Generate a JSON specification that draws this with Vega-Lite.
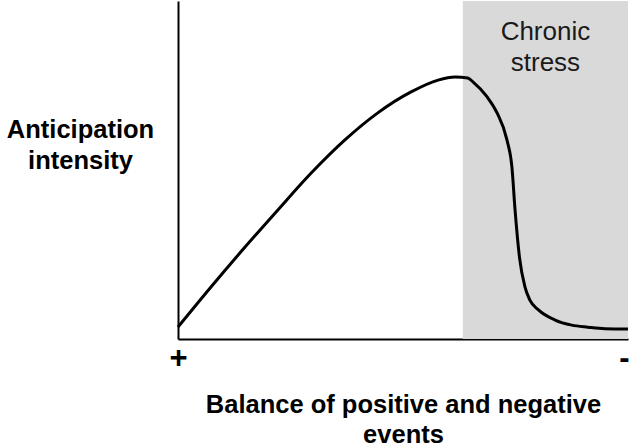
{
  "$schema": "https://vega.github.io/schema/vega-lite/v6.json",
  "width": 450,
  "height": 338,
  "autosize": "none",
  "padding": {"left": 178, "top": 1, "right": 4, "bottom": 109},
  "background": "white",
  "config": {"view": {"stroke": null}, "font": "Liberation Sans"},
  "layer": [
    {
      "data": {"values": [{"start": 63.3, "end": 100, "low": 0, "high": 100}]},
      "mark": {"type": "rect", "color": "#d9d9d9"},
      "encoding": {
        "x": {
          "field": "start", "type": "quantitative",
          "scale": {"domain": [0, 100], "nice": false, "zero": false},
          "axis": {
            "title": ["Balance of positive and negative", "events"],
            "titleFontSize": 25.5, "titleFontWeight": "bold", "titleColor": "black",
            "titleLineHeight": 30, "titleBaseline": "alphabetic", "titleY": 73, "titleX": 225,
            "values": [0, 100],
            "labelExpr": "datum.value == 0 ? '+' : '-'",
            "labelFontSize": 31, "labelFontWeight": "bold", "labelColor": "black",
            "labelOffset": {"condition": {"test": "datum.value == 100", "value": -4}, "value": 0},
            "labelPadding": 4, "labelFlush": false, "labelOverlap": false,
            "ticks": false, "grid": false, "domainColor": "black", "domainWidth": 2
          }
        },
        "x2": {"field": "end"},
        "y": {
          "field": "low", "type": "quantitative",
          "scale": {"domain": [0, 100], "nice": false, "zero": false},
          "axis": {
            "title": ["Anticipation", "intensity"],
            "titleAngle": 0, "titleAlign": "center", "titleBaseline": "alphabetic",
            "titleX": -98, "titleY": 136,
            "titleFontSize": 25.5, "titleFontWeight": "bold", "titleColor": "black", "titleLineHeight": 31,
            "labels": false, "ticks": false, "grid": false,
            "domainColor": "black", "domainWidth": 2
          }
        },
        "y2": {"field": "high"}
      }
    },
    {
      "data": {"values": [
        {"x": 0, "y": 3.55},
        {"x": 7.33, "y": 15.4},
        {"x": 14.9, "y": 27.2},
        {"x": 22.2, "y": 38.2},
        {"x": 29.6, "y": 49.1},
        {"x": 37.1, "y": 58.9},
        {"x": 44.4, "y": 66.9},
        {"x": 51.8, "y": 73.1},
        {"x": 57.8, "y": 76.6},
        {"x": 61.6, "y": 77.5},
        {"x": 64.4, "y": 77.2},
        {"x": 65.6, "y": 76.0},
        {"x": 68.7, "y": 71.6},
        {"x": 70.9, "y": 66.9},
        {"x": 73.1, "y": 58.9},
        {"x": 74.2, "y": 50.9},
        {"x": 74.9, "y": 38.2},
        {"x": 75.9, "y": 24.0},
        {"x": 77.1, "y": 15.4},
        {"x": 78.2, "y": 11.5},
        {"x": 80.1, "y": 8.6},
        {"x": 83.8, "y": 5.6},
        {"x": 87.5, "y": 4.1},
        {"x": 91.1, "y": 3.5},
        {"x": 94.9, "y": 3.05},
        {"x": 100, "y": 2.96}
      ]},
      "mark": {"type": "line", "color": "black", "strokeWidth": 3, "interpolate": "monotone"},
      "encoding": {
        "x": {"field": "x", "type": "quantitative"},
        "y": {"field": "y", "type": "quantitative"}
      }
    },
    {
      "data": {"values": [{"label": "Chronic\nstress"}]},
      "mark": {"type": "text", "fontSize": 26, "lineHeight": 31, "lineBreak": "\n", "baseline": "alphabetic", "align": "center", "color": "#1a1a1a"},
      "encoding": {
        "x": {"datum": 81.65, "type": "quantitative"},
        "y": {"datum": 88.5, "type": "quantitative"},
        "text": {"field": "label", "type": "nominal"}
      }
    }
  ]
}
